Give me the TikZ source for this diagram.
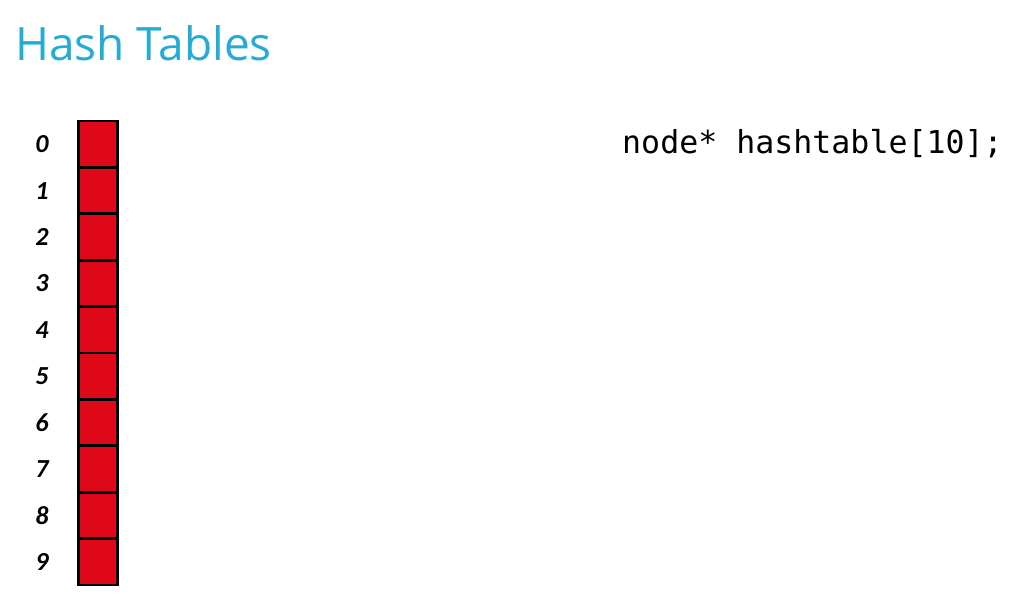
\documentclass[tikz,border=0pt]{standalone}
\usepackage{fontspec}
\newfontfamily\titlefont{Open Sans}
\newfontfamily\codefont{DejaVu Sans Mono}
\newfontfamily\labelfont{Carlito}
\definecolor{titleblue}{RGB}{34,172,214}
\definecolor{slotred}{RGB}{222,8,24}
\tikzset{
  slot/.style={draw=black, fill=slotred, line width=2.8pt, minimum width=39pt,
               minimum height=46.4pt, inner sep=0pt, outer sep=0pt},
  idx/.style={font=\labelfont\bfseries\itshape\fontsize{26}{30}\selectfont, inner sep=0pt},
}
\begin{document}
\begin{tikzpicture}[x=1pt, y=-1pt]
  % page frame
  \fill[white] (0,0) rectangle (1016,610);
  \useasboundingbox (0,0) rectangle (1016,610);

  % heading
  \node[anchor=base west, inner sep=0pt, text=titleblue,
        font=\titlefont\fontsize{46}{54}\selectfont] (title) at (15,60) {Hash Tables};

  % declaration of the array
  \node[anchor=base west, inner sep=0pt,
        font=\codefont\fontsize{31.6}{36}\selectfont] (decl) at (622,153) {node* hashtable[10];};

  % the ten buckets with their indices
  \foreach \i in {0,...,9} {
    \node[slot] (c\i) at (98, 121+46.4*\i+23.2) {};
    \node[idx] (l\i) at (42, 121+46.4*\i+23.2) {\i};
  }
\end{tikzpicture}
\end{document}
